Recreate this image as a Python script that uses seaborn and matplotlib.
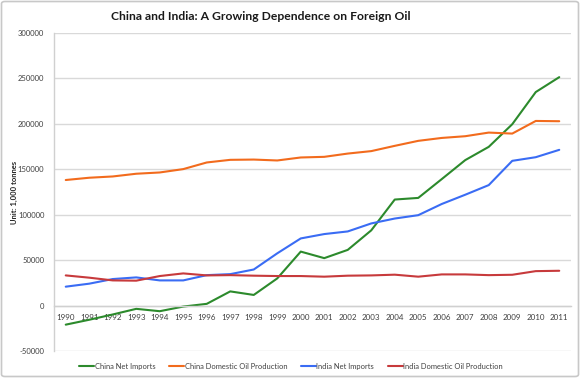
import matplotlib
matplotlib.use("Agg")
import matplotlib.pyplot as plt
from matplotlib.patches import FancyBboxPatch
from matplotlib.ticker import FixedLocator
import seaborn as sns
import pandas as pd

years = list(range(1990, 2012))
china_net_imports = [-21000, -15600, -9800, -3600, -6200, -1100, 1900, 15600, 11700, 29900,
                     59400, 52200, 61300, 82800, 116700, 118500, 139200, 160100, 174700, 199600,
                     235000, 251400]
china_domestic = [138200, 140700, 142100, 145100, 146500, 150200, 157500, 160400, 160700, 159700,
                  163000, 163700, 167300, 170000, 175800, 181300, 184500, 186400, 190400, 189300,
                  203200, 202900]
india_net_imports = [20800, 24100, 29200, 31000, 27700, 27700, 33500, 34600, 39700, 57500,
                     73900, 78700, 81600, 90400, 95800, 99500, 111800, 122000, 132600, 159300,
                     163300, 171400]
india_domestic = [33200, 30700, 27700, 27400, 32500, 35400, 33200, 33500, 32900, 32500,
                  32500, 31800, 32900, 33200, 34000, 31800, 34300, 34300, 33500, 33900,
                  37900, 38300]
series_names = ["China Net Imports", "China Domestic Oil Production",
                "India Net Imports", "India Domestic Oil Production"]
y_ticks = [-50000, 0, 50000, 100000, 150000, 200000, 250000, 300000]

rows = []
for name, vals in zip(series_names, [china_net_imports, china_domestic, india_net_imports, india_domestic]):
    for yr, v in zip(years, vals):
        rows.append({"Year": yr, "Value": v, "Series": name})
df = pd.DataFrame(rows)

sns.set_theme(style="white")
plt.rcParams['font.family'] = ['Lato', 'DejaVu Sans']

W, H = 580, 378
fig = plt.figure(figsize=(W / 100, H / 100), dpi=100)
fig.patch.set_facecolor("white")
fig.patches.append(FancyBboxPatch((1.5 / W, 1.5 / H), 1 - 3 / W, 1 - 3 / H,
                                  boxstyle="round,pad=0,rounding_size=0.006",
                                  transform=fig.transFigure, facecolor="none",
                                  edgecolor="#c8c8c8", linewidth=1.2))

left, right, top, bottom = 54, 571, 33, 351
ax = fig.add_axes([left / W, 1 - bottom / H, (right - left) / W, (bottom - top) / H])

palette = {"China Net Imports": "#2C8A2C", "China Domestic Oil Production": "#F26B1D",
           "India Net Imports": "#3A6CF4", "India Domestic Oil Production": "#C73A3C"}
sns.lineplot(data=df, x="Year", y="Value", hue="Series", palette=palette, ax=ax,
             linewidth=1.5, legend=True)

ax.set_xlim(1989.5, 2011.5)
ax.set_ylim(-50000, 300000)
ax.set_yticks(y_ticks)
ax.set_yticklabels([str(t) for t in y_ticks])
ax.yaxis.grid(True, color="#d9d9d9", linewidth=1)
ax.set_axisbelow(True)
for s in ["top", "right"]:
    ax.spines[s].set_visible(False)
ax.spines["left"].set_color("#d0d0d0")
ax.spines["left"].set_linewidth(1)
ax.spines["bottom"].set_position(("data", 0))
ax.spines["bottom"].set_color("#d0d0d0")
ax.spines["bottom"].set_linewidth(1)

ax.set_xticks(years)
ax.set_xticklabels([str(y) for y in years])
ax.xaxis.set_minor_locator(FixedLocator([y + 0.5 for y in range(1989, 2012)]))
ax.tick_params(axis="x", which="major", length=0, pad=6, labelsize=5.8, labelcolor="#404040")
ax.tick_params(axis="x", which="minor", length=3, width=0.8, color="#c8c8c8", direction="out")
ax.tick_params(axis="y", which="major", length=4, width=0.8, color="#d0d0d0", pad=3,
               labelsize=5.5, labelcolor="#404040")
ax.set_xlabel("")
ax.set_ylabel("")

fig.text(14 / W, 1 - 192 / H, "Unit: 1,000 tonnes", rotation=90, ha="center", va="center",
         fontsize=5.5, fontweight="bold", color="#222222")
fig.text(261 / W, 1 - 16 / H, "China and India: A Growing Dependence on Foreign Oil",
         ha="center", va="center", fontsize=8.7, fontweight="bold", color="#1a1a1a")

handles, labels = ax.get_legend_handles_labels()
ax.legend_.remove()
leg = fig.legend(handles, labels, loc="center", bbox_to_anchor=(291 / W, 1 - 366.5 / H),
                 ncol=4, frameon=False, fontsize=5.4, handlelength=2.0, handletextpad=0.1,
                 columnspacing=1.8, labelcolor="#404040")

fig.savefig("out.png", dpi=100)
